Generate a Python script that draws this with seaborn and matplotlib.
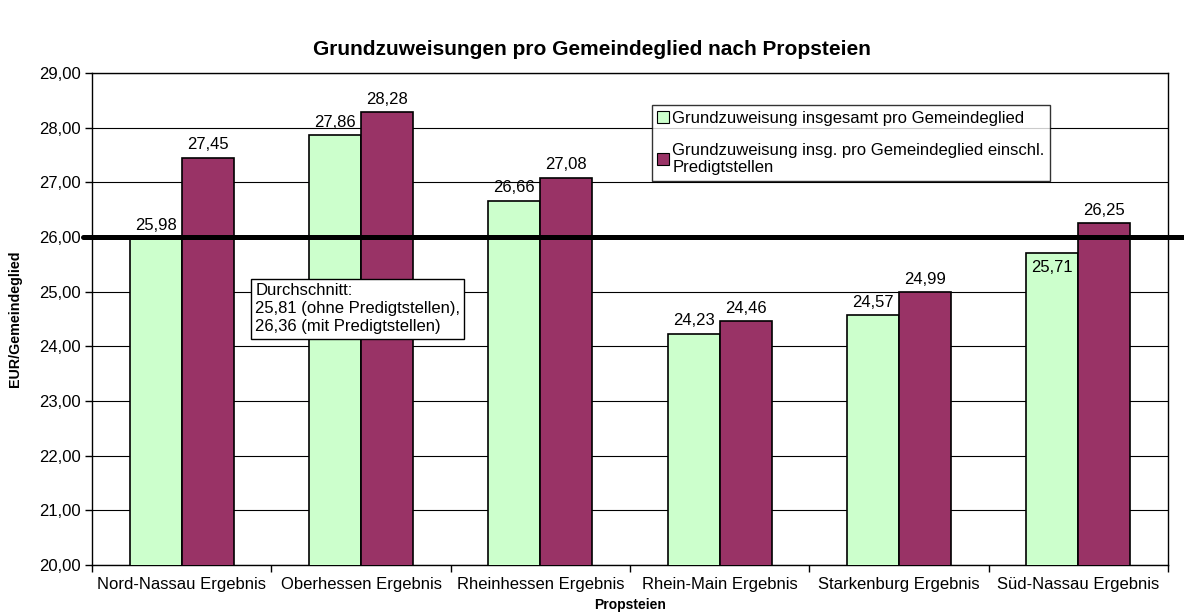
import matplotlib
matplotlib.use("Agg")
import matplotlib.pyplot as plt
import seaborn as sns
import pandas as pd
from matplotlib.ticker import FixedLocator, FuncFormatter

categories = ["Nord-Nassau Ergebnis", "Oberhessen Ergebnis", "Rheinhessen Ergebnis",
              "Rhein-Main Ergebnis", "Starkenburg Ergebnis", "Süd-Nassau Ergebnis"]
series_names = ["Grundzuweisung insgesamt pro Gemeindeglied",
                "Grundzuweisung insg. pro Gemeindeglied einschl.\nPredigtstellen"]
values_ohne = [25.98, 27.86, 26.66, 24.23, 24.57, 25.71]
values_mit = [27.45, 28.28, 27.08, 24.46, 24.99, 26.25]
average_line = 26.0
colors = ["#CCFFCC", "#993366"]

df = pd.DataFrame({
    "Propstei": categories * 2,
    "Serie": [series_names[0]] * len(categories) + [series_names[1]] * len(categories),
    "Wert": values_ohne + values_mit,
})

sns.set_style("white")
plt.rcParams["font.family"] = ["Liberation Sans", "DejaVu Sans"]
for k in ["text.color", "axes.labelcolor", "xtick.color", "ytick.color"]:
    plt.rcParams[k] = "black"

fig = plt.figure(figsize=(11.84, 6.14), dpi=100)
ax = fig.add_axes([0.0777, 0.080, 0.9088, 0.801])

sns.barplot(data=df, x="Propstei", y="Wert", hue="Serie", palette=colors, saturation=1,
            edgecolor="black", linewidth=1.2, width=0.58, ax=ax, zorder=3,
            legend=True)

ax.set_ylim(20, 29)
ax.set_xlim(-0.5, len(categories) - 0.5)
ax.set_yticks(range(20, 30))
ax.yaxis.set_major_formatter(FuncFormatter(lambda v, p: f"{v:.2f}".replace(".", ",")))
ax.grid(axis="y", color="black", linewidth=0.8, zorder=0)
ax.set_axisbelow(True)
for s in ax.spines.values():
    s.set_color("black")
    s.set_linewidth(1.0)

ax.tick_params(axis="y", which="major", direction="out", length=5, width=1, color="black",
               labelsize=12, left=True, pad=3, labelcolor="black")
ax.tick_params(axis="x", which="major", length=0, labelsize=12, pad=9, labelcolor="black")
ax.xaxis.set_minor_locator(FixedLocator([i - 0.5 for i in range(len(categories) + 1)]))
ax.tick_params(axis="x", which="minor", direction="out", length=5, width=1, color="black", bottom=True)

ax.set_xlabel("Propsteien", fontsize=10, fontweight="bold", labelpad=4)
ax.set_ylabel("EUR/Gemeindeglied", fontsize=10.3, fontweight="bold", labelpad=12)
fig.suptitle("Grundzuweisungen pro Gemeindeglied nach Propsteien", fontsize=15,
             fontweight="bold", y=0.935)

fmt = lambda v: f"{v:.2f}".replace(".", ",")
cont_ohne, cont_mit = ax.containers[0], ax.containers[1]
ax.bar_label(cont_mit, labels=[fmt(v) for v in cont_mit.datavalues], fontsize=12, padding=4)
for patch, v in zip(cont_ohne.patches, cont_ohne.datavalues):
    cx = patch.get_x() + patch.get_width() / 2
    top = patch.get_y() + patch.get_height()
    diff = average_line - v
    if 0.1 < diff < 0.5:
        ax.annotate(fmt(v), (cx, top), xytext=(0, -5), textcoords="offset points",
                    ha="center", va="top", fontsize=12, zorder=6)
    else:
        ax.annotate(fmt(v), (cx, top), xytext=(0, 4), textcoords="offset points",
                    ha="center", va="bottom", fontsize=12, zorder=6)

ax.axhline(average_line, xmin=-0.008, xmax=1.02, color="black", linewidth=3.6,
           clip_on=False, zorder=5)

ax.text(0.41, 25.15, "Durchschnitt:\n25,81 (ohne Predigtstellen),\n26,36 (mit Predigtstellen)",
        fontsize=12, va="top", ha="left", zorder=6, linespacing=1.25,
        bbox=dict(boxstyle="square,pad=0.25", facecolor="white", edgecolor="black", linewidth=1))

leg = ax.legend(loc="upper left", bbox_to_anchor=(0.520, 0.935), frameon=True, fancybox=False,
                edgecolor="black", fontsize=12, handlelength=0.7, handleheight=0.7,
                handletextpad=0.2, labelspacing=1.0, borderpad=0.35, borderaxespad=0)
leg.get_frame().set_linewidth(1.0)
leg.set_zorder(6)
for h in leg.legend_handles:
    h.set_linewidth(0.8)

fig.savefig("out.png", dpi=100, facecolor="white")
